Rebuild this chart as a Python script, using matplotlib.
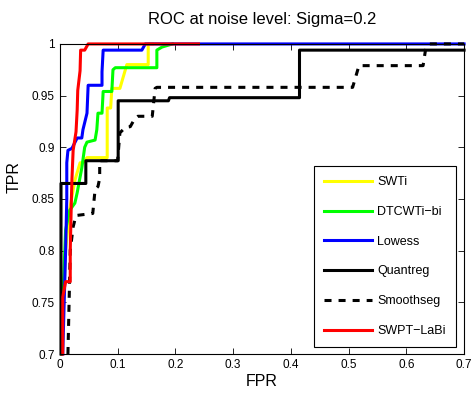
import numpy as np
import matplotlib
matplotlib.use('Agg')
import matplotlib.pyplot as plt

plt.rcParams['font.family'] = ['Liberation Sans', 'DejaVu Sans']

# ROC curves (FPR, TPR)
swti_fpr = [0.003, 0.010, 0.017, 0.026, 0.035, 0.040, 0.047, 0.082, 0.082, 0.088, 0.090, 0.104, 0.116, 0.153, 0.153, 0.160]
swti_tpr = [0.700, 0.800, 0.840, 0.868, 0.885, 0.885, 0.890, 0.890, 0.938, 0.938, 0.957, 0.957, 0.980, 0.980, 1.000, 1.000]

dtcwt_fpr = [0.003, 0.005, 0.010, 0.017, 0.026, 0.030, 0.035, 0.038, 0.040, 0.043, 0.047, 0.061, 0.064, 0.066,
             0.073, 0.075, 0.090, 0.092, 0.096, 0.168, 0.168, 0.177, 0.195]
dtcwt_tpr = [0.700, 0.750, 0.820, 0.839, 0.846, 0.856, 0.871, 0.880, 0.888, 0.900, 0.905, 0.907, 0.917, 0.933,
             0.933, 0.954, 0.954, 0.975, 0.977, 0.977, 0.994, 0.997, 1.000]

lowess_fpr = [0.005, 0.010, 0.012, 0.012, 0.014, 0.021, 0.030, 0.038, 0.040, 0.047, 0.049, 0.073, 0.073, 0.075,
              0.142, 0.148, 0.700]
lowess_tpr = [0.700, 0.800, 0.850, 0.885, 0.897, 0.899, 0.909, 0.909, 0.917, 0.933, 0.960, 0.960, 0.973, 0.994,
              0.994, 1.000, 1.000]

quant_fpr = [0.002, 0.002, 0.045, 0.045, 0.101, 0.101, 0.188, 0.190, 0.415, 0.415, 0.700]
quant_tpr = [0.700, 0.865, 0.865, 0.887, 0.887, 0.945, 0.945, 0.948, 0.948, 0.994, 0.994]

smooth_fpr = [0.014, 0.016, 0.018, 0.023, 0.028, 0.057, 0.061, 0.066, 0.069, 0.069, 0.100, 0.104, 0.113, 0.122,
              0.130, 0.135, 0.160, 0.165, 0.168, 0.507, 0.518, 0.629, 0.634, 0.640, 0.700]
smooth_tpr = [0.700, 0.750, 0.800, 0.823, 0.834, 0.836, 0.859, 0.862, 0.870, 0.887, 0.887, 0.914, 0.919, 0.920,
              0.928, 0.930, 0.930, 0.957, 0.958, 0.958, 0.979, 0.979, 0.997, 1.000, 1.000]

swpt_fpr = [0.005, 0.005, 0.010, 0.018, 0.018, 0.020, 0.021, 0.023, 0.028, 0.030, 0.031, 0.035, 0.036, 0.043,
            0.049, 0.240]
swpt_tpr = [0.700, 0.755, 0.770, 0.770, 0.800, 0.850, 0.870, 0.897, 0.915, 0.936, 0.955, 0.974, 0.994, 0.994,
            1.000, 1.000]

xticks = [0, 0.1, 0.2, 0.3, 0.4, 0.5, 0.6, 0.7]
yticks = [0.7, 0.75, 0.8, 0.85, 0.9, 0.95, 1]

fig = plt.figure(figsize=(4.75, 3.94), dpi=100)
ax = fig.add_axes([0.126, 0.1015, 0.851, 0.787])

lw = 2.2
ax.plot(swti_fpr, swti_tpr, color='yellow', lw=lw, label='SWTi', clip_on=False)
ax.plot(dtcwt_fpr, dtcwt_tpr, color='#00ff00', lw=lw, label='DTCWTi\u2212bi', clip_on=False)
ax.plot(lowess_fpr, lowess_tpr, color='blue', lw=lw, label='Lowess', clip_on=False)
ax.plot(quant_fpr, quant_tpr, color='black', lw=lw, label='Quantreg', clip_on=False)
ax.plot(smooth_fpr, smooth_tpr, color='black', lw=lw, dashes=(2.3, 2.3), label='Smoothseg', clip_on=False)
ax.plot(swpt_fpr, swpt_tpr, color='red', lw=lw, label='SWPT\u2212LaBi', clip_on=False)

ax.set_xlim(0, 0.7)
ax.set_ylim(0.7, 1.0)
ax.set_xticks(xticks)
ax.set_yticks(yticks)
ax.set_xticklabels(['0', '0.1', '0.2', '0.3', '0.4', '0.5', '0.6', '0.7'])
ax.set_yticklabels(['0.7', '0.75', '0.8', '0.85', '0.9', '0.95', '1'])
ax.tick_params(direction='in', top=True, right=True, labelsize=8.5, length=4, width=0.6)
for s in ax.spines.values():
    s.set_linewidth(0.8)

ax.set_xlabel('FPR', fontsize=11.5, labelpad=2)
ax.set_ylabel('TPR', fontsize=11.5)
ax.yaxis.set_label_coords(-0.095, 0.57)
ax.set_title('ROC at noise level: Sigma=0.2', fontsize=12, pad=14)

leg = ax.legend(loc='lower right', bbox_to_anchor=(0.98, 0.023), borderaxespad=0,
                fontsize=9, handlelength=3.9, labelspacing=1.42, handletextpad=0.4,
                fancybox=False, framealpha=1, edgecolor='black', borderpad=0.8)
leg.get_frame().set_linewidth(0.8)

fig.savefig('out.png', dpi=100)
